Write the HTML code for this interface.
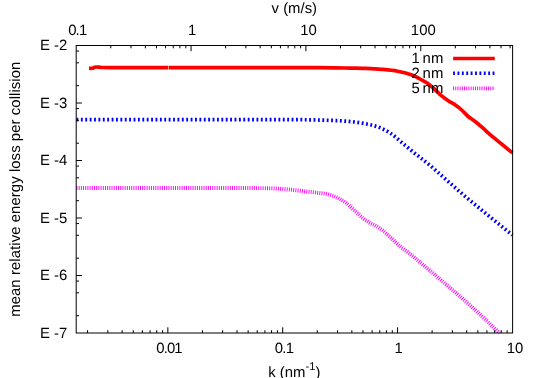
<!DOCTYPE html><html><head><meta charset="utf-8"><style>html,body{margin:0;padding:0;background:#fff}body{width:538px;height:378px;overflow:hidden}</style></head><body><svg width="538" height="378" viewBox="0 0 538 378" style="display:block">
<rect width="538" height="378" fill="#fff"/>
<g font-family="'Liberation Sans', sans-serif" font-size="14.9" fill="#000" text-rendering="geometricPrecision" style="will-change:transform">
<text x="443.3" y="63.2" text-anchor="end" word-spacing="-1.2">1 nm</text>
<path d="M453.1 58.5L494.8 58.5" fill="none" stroke="#ff0000" stroke-width="3.6" stroke-linejoin="round"/>
<path d="M89 68.4C90.1 68.37 91.2 68.52 92.3 68.3C93.03 68.15 93.77 67.53 94.5 67.3C95.17 67.09 95.83 67.02 96.5 67C97.33 66.97 98.17 67.07 99 67.15C100 67.24 101 67.45 102 67.5C104.67 67.62 107.33 67.64 110 67.65C116.67 67.67 123.33 67.6 130 67.6C153.33 67.59 176.67 67.59 200 67.6C233.33 67.61 266.67 67.59 300 67.65C311.67 67.67 323.33 67.74 335 67.85C340 67.89 345 68.01 350 68.1C355.3 68.19 360.6 68.2 365.9 68.4C371.17 68.6 376.43 68.83 381.7 69.3C387 69.77 392.3 70.18 397.6 71.2C402.87 72.21 408.13 73.57 413.4 75.4C415.6 76.17 417.8 77.76 420 79C422.37 80.33 424.73 81.44 427.1 83.1C429.5 84.78 431.9 86.89 434.3 89C436.67 91.09 439.03 93.71 441.4 95.7C443.8 97.71 446.2 99.41 448.6 101C450.97 102.57 453.33 103.57 455.7 105.2C457.7 106.57 459.7 108.18 461.7 110C463.67 111.78 465.63 114.32 467.6 116C470 118.05 472.4 119.34 474.8 121.2C477.17 123.04 479.53 125.03 481.9 127.1C484.27 129.17 486.63 131.53 489 133.6C491.4 135.7 493.8 137.62 496.2 139.6C498.57 141.55 500.93 143.46 503.3 145.4C506.33 147.89 509.37 150.4 512.4 152.9" fill="none" stroke="#ff0000" stroke-width="3.7" stroke-linejoin="round"/>
<rect x="168.1" y="65" width="0.6" height="5.4" fill="#fff" fill-opacity="0.85"/>
<text x="443.3" y="78.1" text-anchor="end" word-spacing="-1.2">2 nm</text>
<path d="M453.1 73.3L494.8 73.3" fill="none" stroke="#0000ff" stroke-width="3.6" stroke-linejoin="round" stroke-dasharray="1.85 2.54"/>
<path d="M76.5 119.7C151 119.7 225.5 119.55 300 119.7C308.2 119.72 316.4 119.95 324.6 120.2C331.43 120.41 338.27 120.58 345.1 121.1C350.53 121.51 355.97 122.04 361.4 123C366.87 123.97 372.33 125 377.8 126.9C381.9 128.33 386 130.32 390.1 133C394.2 135.68 398.3 139.62 402.4 143C406.5 146.38 410.6 149.96 414.7 153.3C416.87 155.06 419.03 156.58 421.2 158.3C424.5 160.92 427.8 163.49 431.1 166.3C435.2 169.79 439.3 173.57 443.4 177.2C450.23 183.24 457.07 189.45 463.9 195.3C470.7 201.12 477.5 206.6 484.3 212.2C489.77 216.7 495.23 221.14 500.7 225.6C504.6 228.78 508.5 231.93 512.4 235.1" fill="none" stroke="#0000ff" stroke-width="3.7" stroke-linejoin="round" stroke-dasharray="1.85 2.54"/>
<text x="443.3" y="93.1" text-anchor="end" word-spacing="-1.2">5 nm</text>
<path d="M453.1 88.4L494.8 88.4" fill="none" stroke="#ff00ff" stroke-width="3.9" stroke-linejoin="round" stroke-dasharray="0.95 1.24"/>
<path d="M76.5 188C134.33 188.02 192.17 187.85 250 188.05C260 188.08 270 188.25 280 188.7C284.47 188.9 288.93 189.53 293.4 190C297.87 190.47 302.33 190.98 306.8 191.5C311.27 192.02 315.73 192.48 320.2 193.1C323.17 193.51 326.13 193.78 329.1 194.6C332.07 195.42 335.03 196.5 338 198C340.97 199.5 343.93 201.3 346.9 203.6C349.87 205.9 352.83 209.1 355.8 211.8C358.03 213.83 360.27 216.02 362.5 217.8C364.73 219.58 366.97 221.15 369.2 222.5C371.43 223.85 373.67 224.6 375.9 225.9C378.13 227.2 380.37 228.57 382.6 230.3C384.83 232.03 387.07 234.25 389.3 236.3C391.53 238.35 393.77 240.49 396 242.6C397.33 243.86 398.67 245.33 400 246.4C403.47 249.19 406.93 251.35 410.4 254.2C420.57 262.55 430.73 271.29 440.9 280C451.03 288.69 461.17 297.25 471.3 306.4C480.37 314.59 489.43 323.45 498.5 332C498.83 332.31 499.17 332.67 499.5 333" fill="none" stroke="#ff00ff" stroke-width="3.9" stroke-linejoin="round" stroke-dasharray="0.95 1.24"/>
<rect x="76.2" y="45.5" width="436.4" height="287.5" fill="none" stroke="#000" stroke-width="1"/>
<path d="M76.2 51.07h2.8M76.2 62.81h2.8M76.2 85.69h2.8M76.2 103h5.7M76.2 108.57h2.8M76.2 120.31h2.8M76.2 143.19h2.8M76.2 160.5h5.7M76.2 166.07h2.8M76.2 177.81h2.8M76.2 200.69h2.8M76.2 218h5.7M76.2 223.57h2.8M76.2 235.31h2.8M76.2 258.19h2.8M76.2 275.5h5.7M76.2 281.07h2.8M76.2 292.81h2.8M76.2 315.69h2.8M87.57 333v-2.8M107.8 333v-2.8M122.15 333v-2.8M133.28 333v-2.8M142.37 333v-2.8M150.06 333v-2.8M156.72 333v-2.8M162.59 333v-2.8M167.85 333v-5.7M202.42 333v-2.8M222.65 333v-2.8M237 333v-2.8M248.13 333v-2.8M257.22 333v-2.8M264.91 333v-2.8M271.57 333v-2.8M277.44 333v-2.8M282.7 333v-5.7M317.27 333v-2.8M337.5 333v-2.8M351.85 333v-2.8M362.98 333v-2.8M372.07 333v-2.8M379.76 333v-2.8M386.42 333v-2.8M392.29 333v-2.8M397.55 333v-5.7M432.12 333v-2.8M452.35 333v-2.8M466.7 333v-2.8M477.83 333v-2.8M486.92 333v-2.8M494.61 333v-2.8M501.27 333v-2.8M507.14 333v-2.8M110.77 45.5v2.8M131 45.5v2.8M145.35 45.5v2.8M156.48 45.5v2.8M165.57 45.5v2.8M173.26 45.5v2.8M179.92 45.5v2.8M185.79 45.5v2.8M191.05 45.5v5.7M225.62 45.5v2.8M245.85 45.5v2.8M260.2 45.5v2.8M271.33 45.5v2.8M280.42 45.5v2.8M288.11 45.5v2.8M294.77 45.5v2.8M300.64 45.5v2.8M305.9 45.5v5.7M340.47 45.5v2.8M360.7 45.5v2.8M375.05 45.5v2.8M386.18 45.5v2.8M395.27 45.5v2.8M402.96 45.5v2.8M409.62 45.5v2.8M415.49 45.5v2.8M420.75 45.5v5.7M455.32 45.5v2.8M475.55 45.5v2.8M489.9 45.5v2.8M501.03 45.5v2.8M510.12 45.5v2.8" stroke="#000" stroke-width="1" fill="none"/>
<text x="67.3" y="50" text-anchor="end" >E -2</text>
<text x="67.3" y="108" text-anchor="end" >E -3</text>
<text x="67.3" y="165" text-anchor="end" >E -4</text>
<text x="67.3" y="223" text-anchor="end" >E -5</text>
<text x="67.3" y="280" text-anchor="end" >E -6</text>
<text x="67.3" y="338" text-anchor="end" >E -7</text>
<text x="169" y="352.9" text-anchor="middle" letter-spacing="-0.9">0.01</text>
<text x="284" y="352.9" text-anchor="middle" letter-spacing="-0.8">0.1</text>
<text x="398.6" y="352.9" text-anchor="middle" >1</text>
<text x="515" y="352.9" text-anchor="middle" >10</text>
<text x="77.3" y="35.3" text-anchor="middle" letter-spacing="-0.8">0.1</text>
<text x="192.2" y="35.3" text-anchor="middle" >1</text>
<text x="308.5" y="35.3" text-anchor="middle" >10</text>
<text x="423.3" y="35.3" text-anchor="middle" >100</text>
<text x="294.3" y="13.1" text-anchor="middle" >v (m/s)</text>
<text x="294.3" y="376.8" text-anchor="middle">k (nm<tspan font-size="11.2" dy="-6.5">-1</tspan><tspan dy="6.5">)</tspan></text>
<text transform="translate(19.9,189.2) rotate(-90)" text-anchor="middle" letter-spacing="0.072">mean relative energy loss per collision</text>
</g>
</svg></body></html>
